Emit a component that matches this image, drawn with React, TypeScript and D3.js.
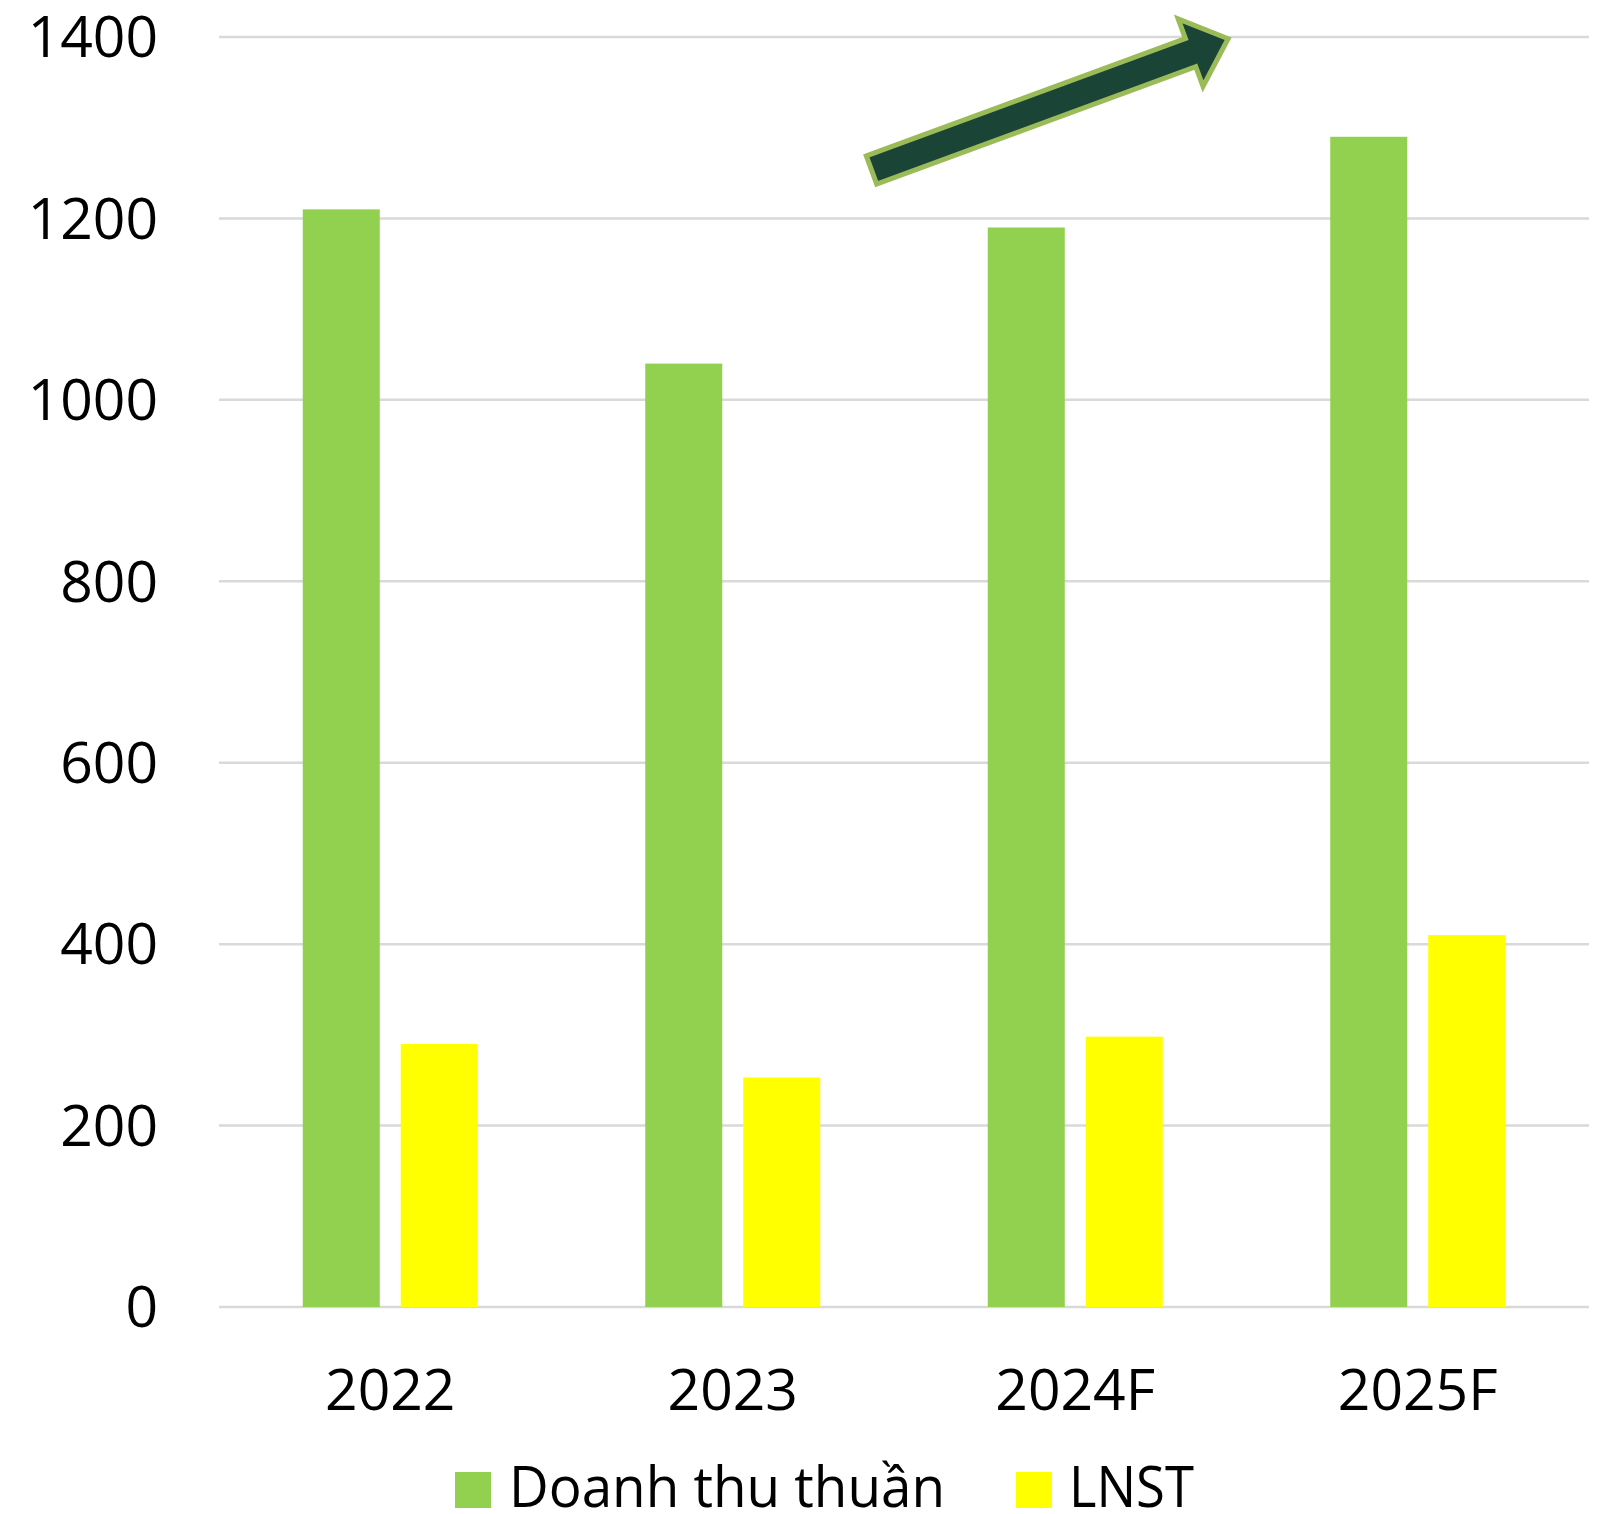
import React from 'react'
import * as d3 from 'd3'

const categories = ['2022', '2023', '2024F', '2025F']
const seriesNames = ['Doanh thu thuần', 'LNST']
const revenue = [1210, 1040, 1190, 1290]
const profit = [290, 253, 298, 410]
const yTicks = [0, 200, 400, 600, 800, 1000, 1200, 1400]

const COLORS = ['#92D050', '#FFFF00']
const FONT = '"Open Sans", "Noto Sans", sans-serif'

const W = 1607
const H = 1514

export default function App() {
  // plot area
  const left = 219
  const right = 1589
  const top = 37
  const bottom = 1307

  const x0 = d3.scaleBand<string>().domain(categories).range([left, right]).padding(0)
  const groupW = 175
  const x1 = d3.scaleBand<string>().domain(seriesNames).range([0, groupW]).paddingInner(0.214).paddingOuter(0)
  const y = d3.scaleLinear().domain([0, 1400]).range([bottom, top])

  const series = [revenue, profit]
  const fs = 57

  // trend arrow (annotation), drawn in local coords and rotated
  const arrowLen = 380
  const shaftHalf = 15
  const headHalf = 36
  const headLen = 40
  const arrowPath = d3.path()
  arrowPath.moveTo(0, -shaftHalf)
  arrowPath.lineTo(arrowLen - headLen, -shaftHalf)
  arrowPath.lineTo(arrowLen - headLen, -headHalf)
  arrowPath.lineTo(arrowLen, 0)
  arrowPath.lineTo(arrowLen - headLen, headHalf)
  arrowPath.lineTo(arrowLen - headLen, shaftHalf)
  arrowPath.lineTo(0, shaftHalf)
  arrowPath.closePath()

  return (
    <svg
      width={W}
      height={H}
      viewBox={`0 0 ${W} ${H}`}
      style={{ position: 'absolute', left: 0, top: 0, background: '#fff' }}
    >
      {/* gridlines */}
      {yTicks.map(t => (
        <line key={t} x1={left} x2={right} y1={y(t)} y2={y(t)} stroke="#D9D9D9" strokeWidth={2.5} />
      ))}
      {/* y tick labels */}
      {yTicks.map(t => (
        <text
          key={'l' + t}
          x={158}
          y={y(t) + fs * 0.357}
          textAnchor="end"
          fontFamily={FONT}
          fontSize={fs}
          fill="#000"
        >
          {t}
        </text>
      ))}
      {/* bars */}
      {categories.map((c, i) => {
        const gx = (x0(c) || 0) + (x0.bandwidth() - groupW) / 2
        return seriesNames.map((s, j) => {
          const v = series[j][i]
          return (
            <rect
              key={c + s}
              x={gx + (x1(s) || 0)}
              y={y(v)}
              width={x1.bandwidth()}
              height={y(0) - y(v)}
              fill={COLORS[j]}
            />
          )
        })
      })}
      {/* x labels */}
      {categories.map(c => (
        <text
          key={'x' + c}
          x={(x0(c) || 0) + x0.bandwidth() / 2}
          y={1410}
          textAnchor="middle"
          fontFamily={FONT}
          fontSize={fs}
          fill="#000"
        >
          {c}
        </text>
      ))}
      {/* legend */}
      <rect x={455} y={1472} width={36} height={36} fill={COLORS[0]} />
      <text x={509} y={1507} fontFamily={FONT} fontSize={fs} fill="#000" textLength={436} lengthAdjust="spacingAndGlyphs">
        {seriesNames[0]}
      </text>
      <rect x={1016} y={1472} width={36} height={36} fill={COLORS[1]} />
      <text x={1069} y={1507} fontFamily={FONT} fontSize={fs} fill="#000" textLength={125} lengthAdjust="spacingAndGlyphs">
        {seriesNames[1]}
      </text>
      {/* trend arrow */}
      <path
        d={arrowPath.toString()}
        transform="translate(871.5,170) rotate(-20.2)"
        fill="#1A4536"
        stroke="#9BBB59"
        strokeWidth={5}
        strokeLinejoin="miter"
      />
    </svg>
  )
}
